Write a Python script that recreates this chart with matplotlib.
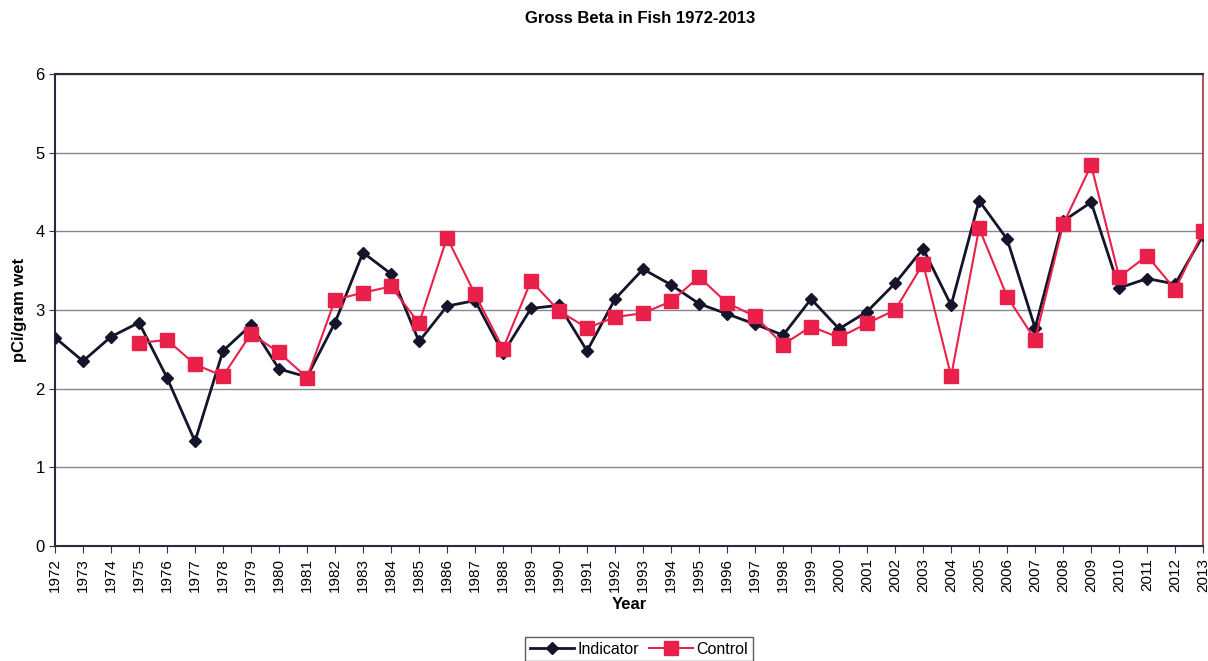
import numpy as np
import matplotlib.pyplot as plt

plt.rcParams['font.family'] = ['Liberation Sans', 'DejaVu Sans']

years = list(range(1972, 2014))
indicator = [2.65, 2.35, 2.66, 2.84, 2.14, 1.33, 2.48, 2.81, 2.25, 2.15,
             2.84, 3.73, 3.46, 2.60, 3.05, 3.12, 2.45, 3.02, 3.06, 2.48,
             3.14, 3.52, 3.32, 3.08, 2.95, 2.82, 2.68, 3.14, 2.76, 2.98,
             3.34, 3.78, 3.06, 4.39, 3.90, 2.77, 4.13, 4.37, 3.28, 3.40,
             3.33, 3.95]
control_years = list(range(1975, 2014))
control = [2.58, 2.62, 2.31, 2.16, 2.70, 2.46, 2.14, 3.13, 3.22, 3.30,
           2.83, 3.92, 3.20, 2.51, 3.37, 2.99, 2.77, 2.91, 2.96, 3.11,
           3.42, 3.09, 2.92, 2.56, 2.79, 2.65, 2.83, 3.00, 3.59, 2.16,
           4.04, 3.17, 2.62, 4.09, 4.84, 3.42, 3.69, 3.26, 4.00]

fig = plt.figure(figsize=(12.08, 6.61), dpi=100)
ax = fig.add_axes([0.0455, 0.174, 0.9505, 0.714])

ax.plot(years, indicator, color='#14142a', lw=2, marker='D', ms=6,
        label='Indicator', zorder=3)
ax.plot(control_years, control, color='#e8204a', lw=1.5, marker='s', ms=10,
        label='Control', zorder=4)

ax.set_xlim(1972, 2013)
ax.set_ylim(0, 6)
ax.set_xticks(years)
ax.set_xticklabels([str(y) for y in years], rotation=90, fontsize=11)
ax.set_yticks(range(0, 7))
ax.tick_params(axis='y', labelsize=12, length=4, color='#333344')
ax.tick_params(axis='x', length=5, color='#333344')
ax.yaxis.grid(True, color='#888890', lw=1)
ax.set_axisbelow(True)
for s in ['left', 'bottom', 'top']:
    ax.spines[s].set_color('#2a2a3a')
    ax.spines[s].set_linewidth(1.5)
ax.spines['right'].set_color('#a03040')
ax.spines['right'].set_linewidth(1.2)

ax.set_xlabel('Year', fontsize=12, fontweight='bold', labelpad=4)
ax.set_ylabel('pCi/gram wet', fontsize=12, fontweight='bold', labelpad=6)
fig.text(0.53, 0.972, 'Gross Beta in Fish 1972-2013', ha='center', va='center',
         fontsize=12, fontweight='bold')

fig.legend(loc='center', bbox_to_anchor=(0.529, 0.018), ncol=2, fontsize=11.5,
           frameon=True, fancybox=False, edgecolor='#333333',
           handlelength=2.8, handletextpad=0.2, columnspacing=0.6,
           borderpad=0.3)

fig.savefig('out.png', dpi=100)
